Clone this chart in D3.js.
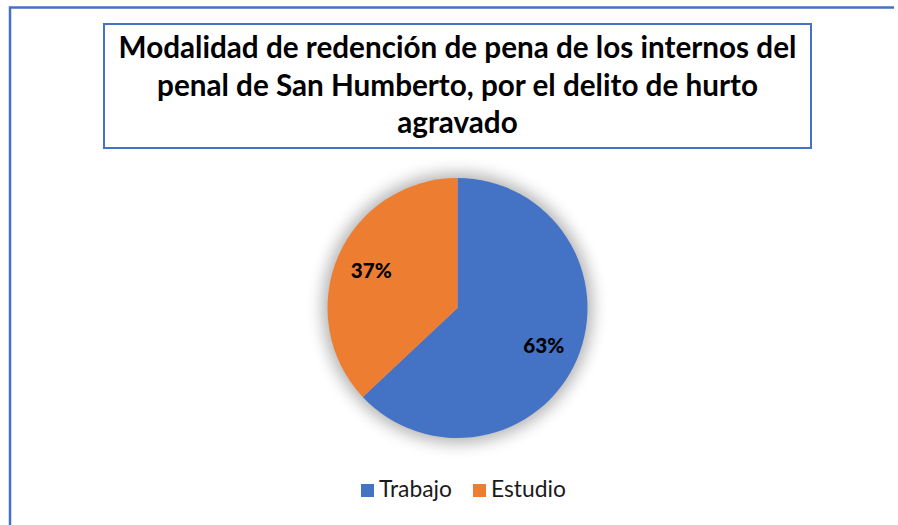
<!DOCTYPE html>
<html>
<head>
<meta charset="utf-8">
<script src="https://cdn.jsdelivr.net/npm/d3@7/dist/d3.min.js"></script>
<style>
  html, body { margin: 0; padding: 0; background: #fff; }
  svg { display: block; }
</style>
</head>
<body>
<svg id="chart" width="898" height="525"></svg>
<script>
const titleLines = [
  "Modalidad de redención de pena de los internos del",
  "penal de San Humberto, por el delito de hurto",
  "agravado"
];
const categories = ["Trabajo", "Estudio"];
const values = [63, 37];
const colors = ["#4472C4", "#ED7D31"];

const FONT = "Lato, 'Open Sans', 'Liberation Sans', sans-serif";
const svg = d3.select("#chart");

// outer frame (top + left visible)
svg.append("path")
  .attr("d", "M10,540 V7.5 H894")
  .attr("fill", "none").attr("stroke", "#4472C4").attr("stroke-width", 2.5);

// title box
svg.append("rect")
  .attr("x", 104).attr("y", 24).attr("width", 707).attr("height", 124)
  .attr("fill", "#fff").attr("stroke", "#4472C4").attr("stroke-width", 2);

// title text, fitted to the reference's first-line width
const titleG = svg.append("g");
const tLines = titleG.selectAll("text").data(titleLines).join("text")
  .attr("x", 457.5)
  .attr("y", (d, i) => 58 + i * 37.5)
  .attr("text-anchor", "middle")
  .attr("font-family", FONT).attr("font-weight", "bold")
  .attr("font-size", 28).attr("fill", "#000")
  .text(d => d);
const w0 = tLines.node().getComputedTextLength();
tLines.attr("font-size", 28 * 678 / w0);

// pie
const cx = 457.5, cy = 308, R = 130;
const defs = svg.append("defs");
const f = defs.append("filter").attr("id", "glow")
  .attr("x", "-30%").attr("y", "-30%").attr("width", "160%").attr("height", "160%");
f.append("feGaussianBlur").attr("stdDeviation", 8);

const g = svg.append("g").attr("transform", `translate(${cx},${cy})`);
g.append("circle").attr("r", R + 5).attr("fill", "#000").attr("opacity", 0.3)
  .attr("filter", "url(#glow)");

const pie = d3.pie().sort(null).value(d => d);
const arcs = pie(values);
const arc = d3.arc().innerRadius(0).outerRadius(R);
const labelArc = d3.arc().innerRadius(94).outerRadius(94);

g.selectAll("path.slice").data(arcs).join("path")
  .attr("class", "slice")
  .attr("d", arc)
  .attr("fill", (d, i) => colors[i]);

const total = d3.sum(values);
const labels = g.selectAll("text.lbl").data(arcs).join("text")
  .attr("class", "lbl")
  .attr("text-anchor", "middle")
  .attr("font-family", FONT).attr("font-weight", 900)
  .attr("font-size", 20).attr("fill", "#000")
  .attr("x", d => labelArc.centroid(d)[0])
  .attr("y", d => labelArc.centroid(d)[1])
  .attr("dy", "0.36em")
  .text(d => Math.round(d.data / total * 100) + "%");
const lw = labels.node().getComputedTextLength();
labels.attr("font-size", 20 * 41 / lw);

// legend
const legX = [361, 473];
const leg = svg.append("g");
const items = leg.selectAll("g").data(categories).join("g");
items.append("rect")
  .attr("x", (d, i) => legX[i]).attr("y", 484)
  .attr("width", 13).attr("height", 13)
  .attr("fill", (d, i) => colors[i]);
const legT = items.append("text")
  .attr("x", (d, i) => legX[i] + 18).attr("y", 497)
  .attr("font-family", FONT).attr("font-size", 18).attr("fill", "#1a1a1a")
  .text(d => d);
const tw = legT.node().getComputedTextLength();
legT.attr("font-size", 18 * 73 / tw);
</script>
</body>
</html>
